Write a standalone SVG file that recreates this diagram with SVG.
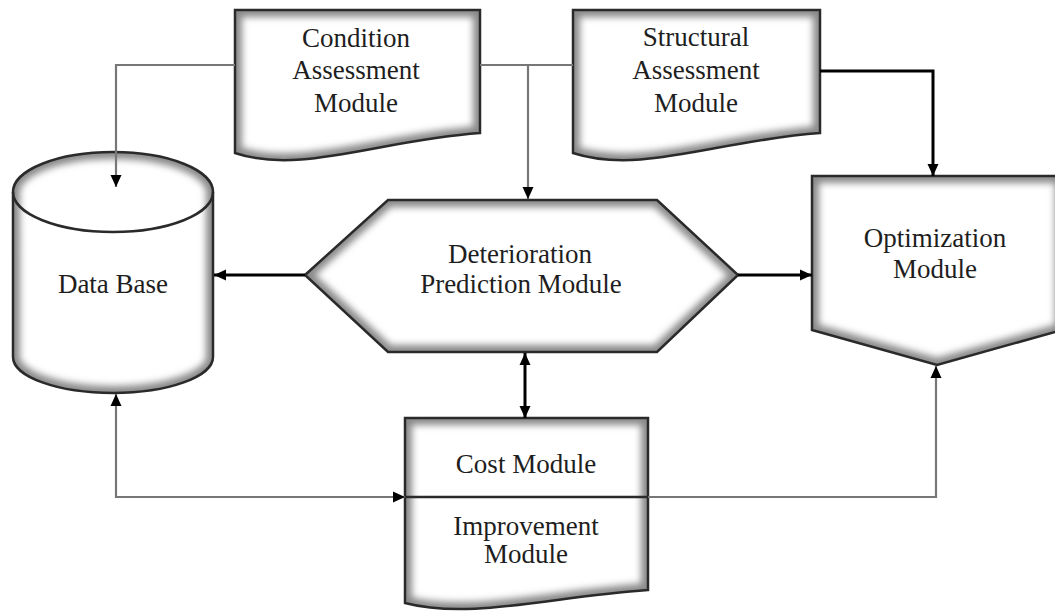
<svg xmlns="http://www.w3.org/2000/svg" xmlns:xlink="http://www.w3.org/1999/xlink" width="1055" height="611" viewBox="0 0 1055 611">
<style>
.bg{fill:#fff;stroke:none}
.shade{fill:none;stroke:#8a8a8a;stroke-width:14;filter:url(#blur)}
.outline{fill:none;stroke:#2a2a2a;stroke-width:2.5;stroke-linejoin:miter}
.lbl{font-family:'Liberation Serif','DejaVu Serif',serif;font-size:27px;fill:#1e1e1e;text-anchor:middle}
.gray{fill:none;stroke:#777;stroke-width:2.2}
.blk{fill:none;stroke:#000;stroke-width:3}
</style>
<defs>
<filter id="blur" x="-10%" y="-10%" width="120%" height="120%"><feGaussianBlur stdDeviation="3.5"/></filter>
<marker id="arr" viewBox="0 0 12 12" refX="12" refY="6" markerWidth="12" markerHeight="12" markerUnits="userSpaceOnUse" orient="auto-start-reverse"><path d="M0,0.5 L12,6 L0,11.5 Z" fill="#000"/></marker>
<path id="p-cond" d="M235,10 H480 V133 C380,140 300,175 235,153 Z"/>
<path id="p-struct" d="M573,10 H820 V133 C720,140 640,175 573,153 Z"/>
<path id="p-db" d="M13,192 A100,40 0 0,1 213,192 L213,357 A100,36 0 0,1 13,357 Z"/>
<path id="p-hex" d="M305,275 L388,200 H657 L738,275 L657,352 H388 Z"/>
<path id="p-opt" d="M812,176 H1062 V330 L937,365 L812,330 Z"/>
<path id="p-cost" d="M405,418 H648 V590 C548,597 470,620 405,603 Z"/>
<clipPath id="c-cond"><use xlink:href="#p-cond"/></clipPath>
<clipPath id="c-struct"><use xlink:href="#p-struct"/></clipPath>
<clipPath id="c-db"><use xlink:href="#p-db"/></clipPath>
<clipPath id="c-hex"><use xlink:href="#p-hex"/></clipPath>
<clipPath id="c-opt"><use xlink:href="#p-opt"/></clipPath>
<clipPath id="c-cost"><use xlink:href="#p-cost"/></clipPath>
</defs>
<rect width="1055" height="611" fill="#fff"/>

<g id="condition">
<use xlink:href="#p-cond" class="bg"/>
<g clip-path="url(#c-cond)"><use xlink:href="#p-cond" class="shade"/></g>
<use xlink:href="#p-cond" class="outline"/>
<text class="lbl" font-family="Liberation Serif, DejaVu Serif, serif" x="356" y="47">Condition</text>
<text class="lbl" font-family="Liberation Serif, DejaVu Serif, serif" x="356" y="79">Assessment</text>
<text class="lbl" font-family="Liberation Serif, DejaVu Serif, serif" x="356" y="112">Module</text>
</g>

<g id="structural">
<use xlink:href="#p-struct" class="bg"/>
<g clip-path="url(#c-struct)"><use xlink:href="#p-struct" class="shade"/></g>
<use xlink:href="#p-struct" class="outline"/>
<text class="lbl" font-family="Liberation Serif, DejaVu Serif, serif" x="696" y="46">Structural</text>
<text class="lbl" font-family="Liberation Serif, DejaVu Serif, serif" x="696" y="79">Assessment</text>
<text class="lbl" font-family="Liberation Serif, DejaVu Serif, serif" x="696" y="112">Module</text>
</g>

<g id="database">
<use xlink:href="#p-db" class="bg"/>
<g clip-path="url(#c-db)"><use xlink:href="#p-db" class="shade"/></g>
<use xlink:href="#p-db" class="outline"/>
<path class="outline" d="M13,192 A100,40 0 0,0 213,192"/>
<text class="lbl" font-family="Liberation Serif, DejaVu Serif, serif" x="113" y="293">Data Base</text>
</g>

<g id="deterioration">
<use xlink:href="#p-hex" class="bg"/>
<g clip-path="url(#c-hex)"><use xlink:href="#p-hex" class="shade"/></g>
<use xlink:href="#p-hex" class="outline"/>
<text class="lbl" font-family="Liberation Serif, DejaVu Serif, serif" x="520" y="263">Deterioration</text>
<text class="lbl" font-family="Liberation Serif, DejaVu Serif, serif" x="521" y="293">Prediction Module</text>
</g>

<g id="optimization">
<use xlink:href="#p-opt" class="bg"/>
<g clip-path="url(#c-opt)"><use xlink:href="#p-opt" class="shade"/></g>
<use xlink:href="#p-opt" class="outline"/>
<text class="lbl" font-family="Liberation Serif, DejaVu Serif, serif" x="935" y="247">Optimization</text>
<text class="lbl" font-family="Liberation Serif, DejaVu Serif, serif" x="935" y="278">Module</text>
</g>

<g id="cost-improvement">
<use xlink:href="#p-cost" class="bg"/>
<g clip-path="url(#c-cost)"><use xlink:href="#p-cost" class="shade"/><path d="M405,497 H648" fill="none" stroke="#8a8a8a" stroke-width="10" filter="url(#blur)"/></g>
<use xlink:href="#p-cost" class="outline"/>
<path class="outline" d="M405,497 H648"/>
<text class="lbl" font-family="Liberation Serif, DejaVu Serif, serif" x="526" y="473">Cost Module</text>
<text class="lbl" font-family="Liberation Serif, DejaVu Serif, serif" x="526" y="535">Improvement</text>
<text class="lbl" font-family="Liberation Serif, DejaVu Serif, serif" x="526" y="563">Module</text>
</g>

<g id="connectors">
<path class="gray" d="M235,65 H116 V187" marker-end="url(#arr)"/>
<path class="gray" d="M480,65 H573"/>
<path class="gray" d="M528,65 V199" marker-end="url(#arr)"/>
<path class="blk" d="M820,71 H933 V176" marker-end="url(#arr)"/>
<path class="blk" d="M305,275 H214" marker-end="url(#arr)"/>
<path class="blk" d="M738,275 H812" marker-end="url(#arr)"/>
<path class="blk" d="M525,353 V418" marker-start="url(#arr)" marker-end="url(#arr)"/>
<path class="gray" d="M116,394 V497 H405" marker-start="url(#arr)" marker-end="url(#arr)"/>
<path class="gray" d="M648,497 H936 V366" marker-end="url(#arr)"/>
</g>
</svg>
